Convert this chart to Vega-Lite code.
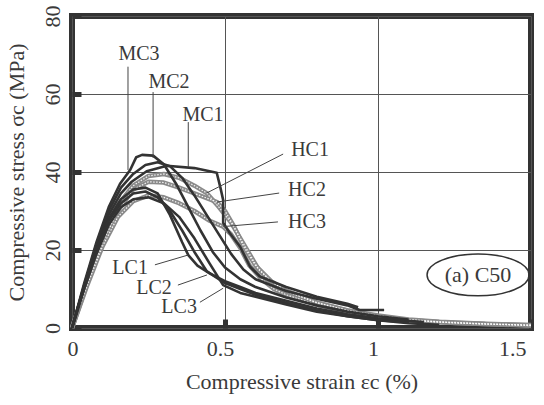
{
  "$schema": "https://vega.github.io/schema/vega-lite/v6.json",
  "width": 459,
  "height": 312,
  "autosize": {"type": "none"},
  "padding": {"left": 72, "top": 16, "right": 13, "bottom": 77},
  "background": "white",
  "config": {
    "view": {"stroke": "#333", "strokeWidth": 6},
    "font": "Liberation Serif",
    "axis": {
      "domain": false,
      "grid": true,
      "gridColor": "#555",
      "gridWidth": 1,
      "gridOpacity": 1,
      "tickColor": "#333",
      "tickSize": -9,
      "tickWidth": 5,
      "labelFont": "Liberation Serif",
      "labelFontSize": 22,
      "labelColor": "#3a3a3a",
      "titleFont": "Liberation Serif",
      "titleFontSize": 22,
      "titleFontWeight": "normal",
      "titleColor": "#3a3a3a"
    }
  },
  "datasets": {
    "curves": [
      {"s": "MC1", "g": "dark", "i": 0, "e": 0, "f": 0},
      {"s": "MC1", "g": "dark", "i": 1, "e": 0.04, "f": 11},
      {"s": "MC1", "g": "dark", "i": 2, "e": 0.08, "f": 21},
      {"s": "MC1", "g": "dark", "i": 3, "e": 0.12, "f": 29},
      {"s": "MC1", "g": "dark", "i": 4, "e": 0.16, "f": 34.5},
      {"s": "MC1", "g": "dark", "i": 5, "e": 0.195, "f": 37.5},
      {"s": "MC1", "g": "dark", "i": 6, "e": 0.244, "f": 40.2},
      {"s": "MC1", "g": "dark", "i": 7, "e": 0.31, "f": 41.6},
      {"s": "MC1", "g": "dark", "i": 8, "e": 0.4, "f": 41},
      {"s": "MC1", "g": "dark", "i": 9, "e": 0.473, "f": 39.8},
      {"s": "MC1", "g": "dark", "i": 10, "e": 0.485, "f": 36},
      {"s": "MC1", "g": "dark", "i": 11, "e": 0.494, "f": 32.8},
      {"s": "MC1", "g": "dark", "i": 12, "e": 0.494, "f": 27},
      {"s": "MC1", "g": "dark", "i": 13, "e": 0.516, "f": 24.3},
      {"s": "MC1", "g": "dark", "i": 14, "e": 0.549, "f": 20.9},
      {"s": "MC1", "g": "dark", "i": 15, "e": 0.582, "f": 15.7},
      {"s": "MC1", "g": "dark", "i": 16, "e": 0.614, "f": 13.2},
      {"s": "MC1", "g": "dark", "i": 17, "e": 0.7, "f": 10.5},
      {"s": "MC1", "g": "dark", "i": 18, "e": 0.8, "f": 8},
      {"s": "MC1", "g": "dark", "i": 19, "e": 0.9, "f": 6.2},
      {"s": "MC1", "g": "dark", "i": 20, "e": 0.935, "f": 5.3},

      {"s": "MC2", "g": "dark", "i": 0, "e": 0, "f": 0},
      {"s": "MC2", "g": "dark", "i": 1, "e": 0.04, "f": 11},
      {"s": "MC2", "g": "dark", "i": 2, "e": 0.08, "f": 21.5},
      {"s": "MC2", "g": "dark", "i": 3, "e": 0.12, "f": 30},
      {"s": "MC2", "g": "dark", "i": 4, "e": 0.16, "f": 36},
      {"s": "MC2", "g": "dark", "i": 5, "e": 0.2, "f": 39.5},
      {"s": "MC2", "g": "dark", "i": 6, "e": 0.24, "f": 41.8},
      {"s": "MC2", "g": "dark", "i": 7, "e": 0.28, "f": 42.5},
      {"s": "MC2", "g": "dark", "i": 8, "e": 0.32, "f": 41.5},
      {"s": "MC2", "g": "dark", "i": 9, "e": 0.36, "f": 38.5},
      {"s": "MC2", "g": "dark", "i": 10, "e": 0.4, "f": 34},
      {"s": "MC2", "g": "dark", "i": 11, "e": 0.44, "f": 29},
      {"s": "MC2", "g": "dark", "i": 12, "e": 0.48, "f": 24},
      {"s": "MC2", "g": "dark", "i": 13, "e": 0.52, "f": 19},
      {"s": "MC2", "g": "dark", "i": 14, "e": 0.56, "f": 15},
      {"s": "MC2", "g": "dark", "i": 15, "e": 0.6, "f": 12.5},
      {"s": "MC2", "g": "dark", "i": 16, "e": 0.7, "f": 9.5},
      {"s": "MC2", "g": "dark", "i": 17, "e": 0.8, "f": 7.5},
      {"s": "MC2", "g": "dark", "i": 18, "e": 0.9, "f": 5.8},
      {"s": "MC2", "g": "dark", "i": 19, "e": 0.94, "f": 4.6},
      {"s": "MC2", "g": "dark", "i": 20, "e": 1.02, "f": 4.6},

      {"s": "MC3", "g": "dark", "i": 0, "e": 0, "f": 0},
      {"s": "MC3", "g": "dark", "i": 1, "e": 0.04, "f": 11.5},
      {"s": "MC3", "g": "dark", "i": 2, "e": 0.08, "f": 22},
      {"s": "MC3", "g": "dark", "i": 3, "e": 0.12, "f": 31},
      {"s": "MC3", "g": "dark", "i": 4, "e": 0.157, "f": 37},
      {"s": "MC3", "g": "dark", "i": 5, "e": 0.19, "f": 40.5},
      {"s": "MC3", "g": "dark", "i": 6, "e": 0.21, "f": 43.8},
      {"s": "MC3", "g": "dark", "i": 7, "e": 0.229, "f": 44.4},
      {"s": "MC3", "g": "dark", "i": 8, "e": 0.265, "f": 44.2},
      {"s": "MC3", "g": "dark", "i": 9, "e": 0.3, "f": 42},
      {"s": "MC3", "g": "dark", "i": 10, "e": 0.34, "f": 37},
      {"s": "MC3", "g": "dark", "i": 11, "e": 0.38, "f": 31},
      {"s": "MC3", "g": "dark", "i": 12, "e": 0.42, "f": 25},
      {"s": "MC3", "g": "dark", "i": 13, "e": 0.46, "f": 19.5},
      {"s": "MC3", "g": "dark", "i": 14, "e": 0.5, "f": 15.5},
      {"s": "MC3", "g": "dark", "i": 15, "e": 0.55, "f": 12.5},
      {"s": "MC3", "g": "dark", "i": 16, "e": 0.6, "f": 10.5},
      {"s": "MC3", "g": "dark", "i": 17, "e": 0.7, "f": 7.8},
      {"s": "MC3", "g": "dark", "i": 18, "e": 0.8, "f": 5.8},
      {"s": "MC3", "g": "dark", "i": 19, "e": 0.9, "f": 4.2},
      {"s": "MC3", "g": "dark", "i": 20, "e": 1.0, "f": 3},
      {"s": "MC3", "g": "dark", "i": 21, "e": 1.1, "f": 2.2},

      {"s": "LC1", "g": "dark", "i": 0, "e": 0, "f": 0},
      {"s": "LC1", "g": "dark", "i": 1, "e": 0.04, "f": 10.5},
      {"s": "LC1", "g": "dark", "i": 2, "e": 0.08, "f": 20},
      {"s": "LC1", "g": "dark", "i": 3, "e": 0.12, "f": 28},
      {"s": "LC1", "g": "dark", "i": 4, "e": 0.16, "f": 33},
      {"s": "LC1", "g": "dark", "i": 5, "e": 0.2, "f": 35.5},
      {"s": "LC1", "g": "dark", "i": 6, "e": 0.24, "f": 36},
      {"s": "LC1", "g": "dark", "i": 7, "e": 0.28, "f": 34.5},
      {"s": "LC1", "g": "dark", "i": 8, "e": 0.32, "f": 29},
      {"s": "LC1", "g": "dark", "i": 9, "e": 0.36, "f": 22},
      {"s": "LC1", "g": "dark", "i": 10, "e": 0.38, "f": 18.7},
      {"s": "LC1", "g": "dark", "i": 11, "e": 0.41, "f": 16},
      {"s": "LC1", "g": "dark", "i": 12, "e": 0.45, "f": 14},
      {"s": "LC1", "g": "dark", "i": 13, "e": 0.5, "f": 12},
      {"s": "LC1", "g": "dark", "i": 14, "e": 0.55, "f": 10.5},
      {"s": "LC1", "g": "dark", "i": 15, "e": 0.6, "f": 9},
      {"s": "LC1", "g": "dark", "i": 16, "e": 0.7, "f": 7},
      {"s": "LC1", "g": "dark", "i": 17, "e": 0.8, "f": 5},
      {"s": "LC1", "g": "dark", "i": 18, "e": 0.9, "f": 3.5},
      {"s": "LC1", "g": "dark", "i": 19, "e": 1.0, "f": 2.5},
      {"s": "LC1", "g": "dark", "i": 20, "e": 1.15, "f": 1.5},

      {"s": "LC2", "g": "dark", "i": 0, "e": 0, "f": 0},
      {"s": "LC2", "g": "dark", "i": 1, "e": 0.04, "f": 10.5},
      {"s": "LC2", "g": "dark", "i": 2, "e": 0.08, "f": 20},
      {"s": "LC2", "g": "dark", "i": 3, "e": 0.12, "f": 27.5},
      {"s": "LC2", "g": "dark", "i": 4, "e": 0.16, "f": 32},
      {"s": "LC2", "g": "dark", "i": 5, "e": 0.2, "f": 34.5},
      {"s": "LC2", "g": "dark", "i": 6, "e": 0.24, "f": 35},
      {"s": "LC2", "g": "dark", "i": 7, "e": 0.28, "f": 33.5},
      {"s": "LC2", "g": "dark", "i": 8, "e": 0.32, "f": 30},
      {"s": "LC2", "g": "dark", "i": 9, "e": 0.36, "f": 25},
      {"s": "LC2", "g": "dark", "i": 10, "e": 0.4, "f": 19.5},
      {"s": "LC2", "g": "dark", "i": 11, "e": 0.441, "f": 14.5},
      {"s": "LC2", "g": "dark", "i": 12, "e": 0.5, "f": 11.5},
      {"s": "LC2", "g": "dark", "i": 13, "e": 0.55, "f": 10},
      {"s": "LC2", "g": "dark", "i": 14, "e": 0.6, "f": 8.5},
      {"s": "LC2", "g": "dark", "i": 15, "e": 0.7, "f": 6.5},
      {"s": "LC2", "g": "dark", "i": 16, "e": 0.8, "f": 4.5},
      {"s": "LC2", "g": "dark", "i": 17, "e": 0.9, "f": 3},
      {"s": "LC2", "g": "dark", "i": 18, "e": 1.0, "f": 2},
      {"s": "LC2", "g": "dark", "i": 19, "e": 1.1, "f": 1.5},

      {"s": "LC3", "g": "dark", "i": 0, "e": 0, "f": 0},
      {"s": "LC3", "g": "dark", "i": 1, "e": 0.04, "f": 10},
      {"s": "LC3", "g": "dark", "i": 2, "e": 0.08, "f": 19},
      {"s": "LC3", "g": "dark", "i": 3, "e": 0.12, "f": 26.5},
      {"s": "LC3", "g": "dark", "i": 4, "e": 0.16, "f": 31},
      {"s": "LC3", "g": "dark", "i": 5, "e": 0.2, "f": 33},
      {"s": "LC3", "g": "dark", "i": 6, "e": 0.25, "f": 33.5},
      {"s": "LC3", "g": "dark", "i": 7, "e": 0.3, "f": 32},
      {"s": "LC3", "g": "dark", "i": 8, "e": 0.35, "f": 28.5},
      {"s": "LC3", "g": "dark", "i": 9, "e": 0.4, "f": 23},
      {"s": "LC3", "g": "dark", "i": 10, "e": 0.45, "f": 16.5},
      {"s": "LC3", "g": "dark", "i": 11, "e": 0.494, "f": 11},
      {"s": "LC3", "g": "dark", "i": 12, "e": 0.55, "f": 9},
      {"s": "LC3", "g": "dark", "i": 13, "e": 0.6, "f": 8},
      {"s": "LC3", "g": "dark", "i": 14, "e": 0.7, "f": 6},
      {"s": "LC3", "g": "dark", "i": 15, "e": 0.8, "f": 4.2},
      {"s": "LC3", "g": "dark", "i": 16, "e": 0.9, "f": 3},
      {"s": "LC3", "g": "dark", "i": 17, "e": 1.0, "f": 2},
      {"s": "LC3", "g": "dark", "i": 18, "e": 1.1, "f": 1.2},
      {"s": "LC3", "g": "dark", "i": 19, "e": 1.2, "f": 0.8},

      {"s": "HC1", "g": "gray", "i": 0, "e": 0, "f": 0},
      {"s": "HC1", "g": "gray", "i": 1, "e": 0.05, "f": 12},
      {"s": "HC1", "g": "gray", "i": 2, "e": 0.1, "f": 23},
      {"s": "HC1", "g": "gray", "i": 3, "e": 0.15, "f": 31.5},
      {"s": "HC1", "g": "gray", "i": 4, "e": 0.2, "f": 36.5},
      {"s": "HC1", "g": "gray", "i": 5, "e": 0.25, "f": 39},
      {"s": "HC1", "g": "gray", "i": 6, "e": 0.3, "f": 39.5},
      {"s": "HC1", "g": "gray", "i": 7, "e": 0.35, "f": 38.5},
      {"s": "HC1", "g": "gray", "i": 8, "e": 0.4, "f": 36.5},
      {"s": "HC1", "g": "gray", "i": 9, "e": 0.44, "f": 34.6},
      {"s": "HC1", "g": "gray", "i": 10, "e": 0.48, "f": 31},
      {"s": "HC1", "g": "gray", "i": 11, "e": 0.52, "f": 27},
      {"s": "HC1", "g": "gray", "i": 12, "e": 0.55, "f": 23},
      {"s": "HC1", "g": "gray", "i": 13, "e": 0.58, "f": 19},
      {"s": "HC1", "g": "gray", "i": 14, "e": 0.61, "f": 15},
      {"s": "HC1", "g": "gray", "i": 15, "e": 0.65, "f": 12},
      {"s": "HC1", "g": "gray", "i": 16, "e": 0.7, "f": 9.5},
      {"s": "HC1", "g": "gray", "i": 17, "e": 0.8, "f": 6.5},
      {"s": "HC1", "g": "gray", "i": 18, "e": 0.9, "f": 4.5},
      {"s": "HC1", "g": "gray", "i": 19, "e": 1.0, "f": 3},
      {"s": "HC1", "g": "gray", "i": 20, "e": 1.1, "f": 2},
      {"s": "HC1", "g": "gray", "i": 21, "e": 1.2, "f": 1.5},
      {"s": "HC1", "g": "gray", "i": 22, "e": 1.35, "f": 1},
      {"s": "HC1", "g": "gray", "i": 23, "e": 1.5, "f": 0.8},

      {"s": "HC2", "g": "gray", "i": 0, "e": 0, "f": 0},
      {"s": "HC2", "g": "gray", "i": 1, "e": 0.05, "f": 11.5},
      {"s": "HC2", "g": "gray", "i": 2, "e": 0.1, "f": 22},
      {"s": "HC2", "g": "gray", "i": 3, "e": 0.15, "f": 30},
      {"s": "HC2", "g": "gray", "i": 4, "e": 0.2, "f": 35.5},
      {"s": "HC2", "g": "gray", "i": 5, "e": 0.25, "f": 37.5},
      {"s": "HC2", "g": "gray", "i": 6, "e": 0.3, "f": 37.3},
      {"s": "HC2", "g": "gray", "i": 7, "e": 0.35, "f": 36},
      {"s": "HC2", "g": "gray", "i": 8, "e": 0.4, "f": 34.5},
      {"s": "HC2", "g": "gray", "i": 9, "e": 0.474, "f": 32.3},
      {"s": "HC2", "g": "gray", "i": 10, "e": 0.5, "f": 30},
      {"s": "HC2", "g": "gray", "i": 11, "e": 0.53, "f": 26},
      {"s": "HC2", "g": "gray", "i": 12, "e": 0.56, "f": 21},
      {"s": "HC2", "g": "gray", "i": 13, "e": 0.6, "f": 16},
      {"s": "HC2", "g": "gray", "i": 14, "e": 0.65, "f": 12},
      {"s": "HC2", "g": "gray", "i": 15, "e": 0.7, "f": 9.5},
      {"s": "HC2", "g": "gray", "i": 16, "e": 0.8, "f": 6.5},
      {"s": "HC2", "g": "gray", "i": 17, "e": 0.9, "f": 4.5},
      {"s": "HC2", "g": "gray", "i": 18, "e": 1.0, "f": 3.2},
      {"s": "HC2", "g": "gray", "i": 19, "e": 1.1, "f": 2.2},
      {"s": "HC2", "g": "gray", "i": 20, "e": 1.2, "f": 1.6},
      {"s": "HC2", "g": "gray", "i": 21, "e": 1.35, "f": 1.1},
      {"s": "HC2", "g": "gray", "i": 22, "e": 1.5, "f": 0.7},

      {"s": "HC3", "g": "gray", "i": 0, "e": 0, "f": 0},
      {"s": "HC3", "g": "gray", "i": 1, "e": 0.05, "f": 11},
      {"s": "HC3", "g": "gray", "i": 2, "e": 0.1, "f": 21},
      {"s": "HC3", "g": "gray", "i": 3, "e": 0.15, "f": 28.5},
      {"s": "HC3", "g": "gray", "i": 4, "e": 0.2, "f": 32.5},
      {"s": "HC3", "g": "gray", "i": 5, "e": 0.25, "f": 34},
      {"s": "HC3", "g": "gray", "i": 6, "e": 0.3, "f": 33.5},
      {"s": "HC3", "g": "gray", "i": 7, "e": 0.35, "f": 32},
      {"s": "HC3", "g": "gray", "i": 8, "e": 0.4, "f": 30},
      {"s": "HC3", "g": "gray", "i": 9, "e": 0.45, "f": 27.5},
      {"s": "HC3", "g": "gray", "i": 10, "e": 0.494, "f": 26},
      {"s": "HC3", "g": "gray", "i": 11, "e": 0.52, "f": 24},
      {"s": "HC3", "g": "gray", "i": 12, "e": 0.55, "f": 20.5},
      {"s": "HC3", "g": "gray", "i": 13, "e": 0.58, "f": 16},
      {"s": "HC3", "g": "gray", "i": 14, "e": 0.62, "f": 12.5},
      {"s": "HC3", "g": "gray", "i": 15, "e": 0.66, "f": 10},
      {"s": "HC3", "g": "gray", "i": 16, "e": 0.7, "f": 8.5},
      {"s": "HC3", "g": "gray", "i": 17, "e": 0.8, "f": 6},
      {"s": "HC3", "g": "gray", "i": 18, "e": 0.9, "f": 4},
      {"s": "HC3", "g": "gray", "i": 19, "e": 1.0, "f": 2.8},
      {"s": "HC3", "g": "gray", "i": 20, "e": 1.1, "f": 2},
      {"s": "HC3", "g": "gray", "i": 21, "e": 1.25, "f": 1.3},
      {"s": "HC3", "g": "gray", "i": 22, "e": 1.5, "f": 0.6}
    ],
    "leaders": [
      {"s": "MC3", "e": 0.183, "f": 67, "e2": 0.183, "f2": 40.5},
      {"s": "MC2", "e": 0.265, "f": 60.5, "e2": 0.265, "f2": 43.6},
      {"s": "MC1", "e": 0.38, "f": 52.8, "e2": 0.38, "f2": 41.3},
      {"s": "HC1", "e": 0.69, "f": 44.6, "e2": 0.44, "f2": 34.6},
      {"s": "HC2", "e": 0.677, "f": 34.6, "e2": 0.474, "f2": 32.3},
      {"s": "HC3", "e": 0.673, "f": 27.2, "e2": 0.494, "f2": 26},
      {"s": "LC1", "e": 0.271, "f": 16.2, "e2": 0.379, "f2": 18.7},
      {"s": "LC2", "e": 0.346, "f": 11, "e2": 0.441, "f2": 13.6},
      {"s": "LC3", "e": 0.418, "f": 6.6, "e2": 0.494, "f2": 10.2}
    ],
    "labels": [
      {"s": "MC3", "e": 0.219, "f": 70.2},
      {"s": "MC2", "e": 0.317, "f": 63},
      {"s": "MC1", "e": 0.428, "f": 54.6},
      {"s": "HC1", "e": 0.778, "f": 45.6},
      {"s": "HC2", "e": 0.768, "f": 35.4},
      {"s": "HC3", "e": 0.768, "f": 27.2},
      {"s": "LC1", "e": 0.19, "f": 15.3},
      {"s": "LC2", "e": 0.268, "f": 10.3},
      {"s": "LC3", "e": 0.35, "f": 5.3}
    ],
    "panel": [
      {"name": "(a) C50", "e": 1.327, "f": 13.6}
    ]
  },
  "layer": [
    {
      "data": {"name": "curves"},
      "transform": [{"filter": "datum.g === 'gray'"}],
      "mark": {"type": "line", "color": "#8a8a8a", "strokeWidth": 4.5, "strokeJoin": "round"},
      "encoding": {
        "x": {
          "field": "e", "type": "quantitative",
          "scale": {"domain": [0, 1.5], "nice": false},
          "axis": {
            "values": [0, 0.5, 1, 1.5], "format": "~g",
            "title": "Compressive strain εc (%)",
            "labelPadding": 19, "labelOffset": -5, "titlePadding": 12
          }
        },
        "y": {
          "field": "f", "type": "quantitative",
          "scale": {"domain": [0, 80], "nice": false},
          "axis": {
            "values": [0, 20, 40, 60, 80], "format": "d",
            "title": "Compressive stress σc (MPa)",
            "labelAngle": -90, "labelAlign": "center", "labelBaseline": "bottom",
            "labelPadding": 17, "titlePadding": 13
          }
        },
        "detail": {"field": "s"},
        "order": {"field": "i", "type": "quantitative"}
      }
    },
    {
      "data": {"name": "curves"},
      "transform": [{"filter": "datum.g === 'gray'"}],
      "mark": {"type": "line", "color": "#ffffff", "strokeWidth": 1.2, "strokeDash": [1.5, 1.5], "opacity": 0.9},
      "encoding": {
        "x": {"field": "e", "type": "quantitative"},
        "y": {"field": "f", "type": "quantitative"},
        "detail": {"field": "s"},
        "order": {"field": "i", "type": "quantitative"}
      }
    },
    {
      "data": {"name": "curves"},
      "transform": [{"filter": "datum.g === 'dark'"}],
      "mark": {"type": "line", "color": "#333333", "strokeWidth": 2.6, "strokeJoin": "round"},
      "encoding": {
        "x": {"field": "e", "type": "quantitative"},
        "y": {"field": "f", "type": "quantitative"},
        "detail": {"field": "s"},
        "order": {"field": "i", "type": "quantitative"}
      }
    },
    {
      "data": {"name": "leaders"},
      "mark": {"type": "rule", "color": "#444444", "strokeWidth": 1},
      "encoding": {
        "x": {"field": "e", "type": "quantitative"},
        "y": {"field": "f", "type": "quantitative"},
        "x2": {"field": "e2"},
        "y2": {"field": "f2"}
      }
    },
    {
      "data": {"name": "labels"},
      "mark": {"type": "text", "font": "Liberation Serif", "fontSize": 20, "color": "#3a3a3a", "align": "center", "baseline": "middle"},
      "encoding": {
        "x": {"field": "e", "type": "quantitative"},
        "y": {"field": "f", "type": "quantitative"},
        "text": {"field": "s"}
      }
    },
    {
      "data": {"name": "panel"},
      "mark": {
        "type": "point",
        "shape": "M -1 0 A 1 0.41 0 1 1 1 0 A 1 0.41 0 1 1 -1 0 Z",
        "size": 10404,
        "filled": false,
        "stroke": "#333333",
        "strokeWidth": 1.5,
        "opacity": 1
      },
      "encoding": {
        "x": {"field": "e", "type": "quantitative"},
        "y": {"field": "f", "type": "quantitative"}
      }
    },
    {
      "data": {"name": "panel"},
      "mark": {"type": "text", "font": "Liberation Serif", "fontSize": 22, "color": "#3a3a3a", "align": "center", "baseline": "middle"},
      "encoding": {
        "x": {"field": "e", "type": "quantitative"},
        "y": {"field": "f", "type": "quantitative"},
        "text": {"field": "name"}
      }
    }
  ]
}
